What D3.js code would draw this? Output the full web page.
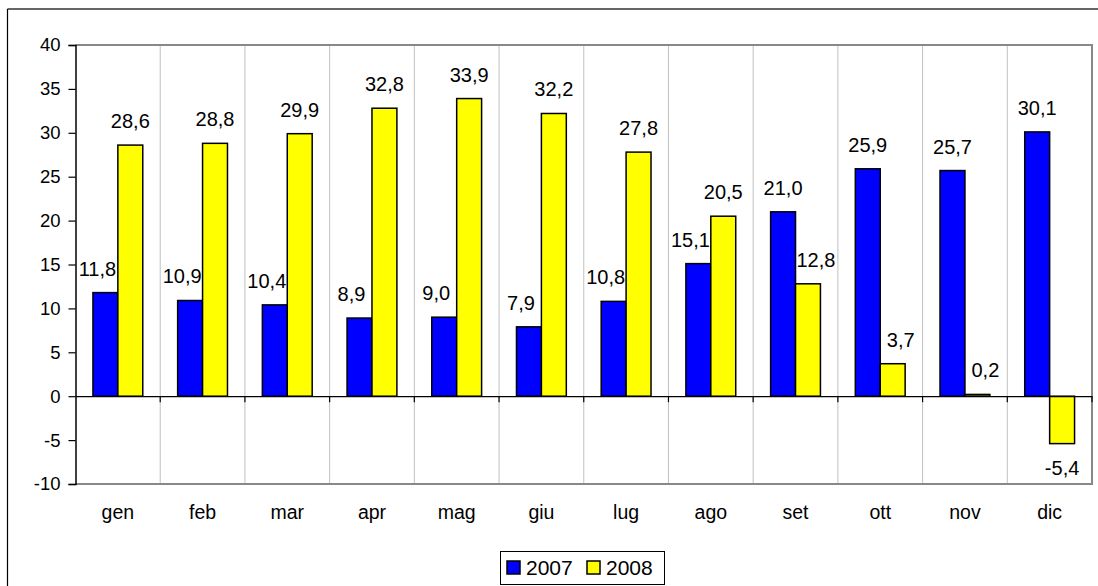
<!DOCTYPE html>
<html><head><meta charset="utf-8">
<script src="https://cdn.jsdelivr.net/npm/d3@7"></script>
<style>
html,body{margin:0;padding:0;background:#fff;}
svg{display:block;font-family:"Liberation Sans",Arial,sans-serif;}
</style></head>
<body>
<svg id="chart" width="1098" height="586"></svg>
<script>
const months = ["gen","feb","mar","apr","mag","giu","lug","ago","set","ott","nov","dic"];
const seriesNames = ["2007","2008"];
const values2007 = [11.8,10.9,10.4,8.9,9.0,7.9,10.8,15.1,21.0,25.9,25.7,30.1];
const values2008 = [28.6,28.8,29.9,32.8,33.9,32.2,27.8,20.5,12.8,3.7,0.2,-5.4];
const yTicks = [-10,-5,0,5,10,15,20,25,30,35,40];
const colors = ["#0000FF","#FFFF00"];

const svg = d3.select("#chart");
const L = 75.5, R = 1092, T = 45, B = 484;

// outer chart border
svg.append("line").attr("x1",7.5).attr("x2",1098).attr("y1",9).attr("y2",9).attr("stroke","#333").attr("stroke-width",1.5);
svg.append("line").attr("x1",7.5).attr("x2",7.5).attr("y1",9).attr("y2",586).attr("stroke","#000").attr("stroke-width",1.2);

const x0 = d3.scaleBand().domain(months).range([L,R]).padding(0);
const bw = x0.bandwidth();
const barW = bw/3.4;
const x1 = d3.scaleBand().domain(seriesNames).range([0.7*barW, 0.7*barW + 2*barW]).padding(0);
const y = d3.scaleLinear().domain([-10,40]).range([B,T]);

// vertical gridlines at category boundaries
svg.append("g").selectAll("line").data(months.slice(1)).join("line")
  .attr("x1",d=>x0(d)).attr("x2",d=>x0(d)).attr("y1",T).attr("y2",B)
  .attr("stroke","#c0c0c0").attr("stroke-width",1);

// plot area border (gray) top, right, bottom
svg.append("path").attr("d",`M${L},${T}H${R}V${B}H${L}`).attr("fill","none")
  .attr("stroke","#888").attr("stroke-width",2);

// y axis
const yAxis = d3.axisLeft(y).tickValues(yTicks).tickSize(7).tickPadding(8).tickFormat(d=>String(d));
const ga = svg.append("g").attr("transform",`translate(${L},0)`).call(yAxis);
ga.select(".domain").attr("stroke","#000").attr("stroke-width",1.5);
ga.selectAll(".tick line").attr("stroke","#000").attr("stroke-width",1.2);
ga.selectAll(".tick text").attr("font-size",18.5).attr("fill","#000")
  .attr("font-family","'Liberation Sans',Arial,sans-serif");

// data
const data = months.map((m,i)=>({m, vals:[values2007[i], values2008[i]]}));

const groups = svg.append("g").selectAll("g").data(data).join("g")
  .attr("transform",d=>`translate(${x0(d.m)},0)`);

const fmt = v => d3.format(".1f")(v).replace(".",",").replace("\u2212","-");

// label shifted away from a taller neighbouring bar
function labelShift(d, si){
  const v = d.vals[si], o = d.vals[1-si];
  if (v >= 0 && o > v) return si === 0 ? -8 : 8;
  return 0;
}

seriesNames.forEach((s,si)=>{
  groups.append("rect")
    .attr("x",x1(s)).attr("width",x1.bandwidth())
    .attr("y",d=>y(Math.max(0,d.vals[si])))
    .attr("height",d=>Math.abs(y(d.vals[si])-y(0)))
    .attr("fill",colors[si]).attr("stroke","#000").attr("stroke-width",1.5);
  groups.append("text")
    .attr("x",d=>x1(s)+x1.bandwidth()/2 + labelShift(d,si))
    .attr("y",d=>d.vals[si]>=0 ? y(d.vals[si])-17 : y(d.vals[si])+31)
    .attr("text-anchor","middle").attr("font-size",20).attr("fill","#000")
    .text(d=>fmt(d.vals[si]));
});

// x axis at zero
const xAxis = d3.axisBottom(x0).tickSize(0).tickFormat("");
const gx = svg.append("g").attr("transform",`translate(0,${y(0)})`).call(xAxis);
gx.select(".domain").attr("stroke","#000").attr("stroke-width",1.2);
gx.selectAll(".tick").remove();
svg.append("g").selectAll("line").data(months.slice(1).concat(["__end"])).join("line")
  .attr("x1",d=>d==="__end"?R:x0(d)).attr("x2",d=>d==="__end"?R:x0(d))
  .attr("y1",y(0)).attr("y2",y(0)+6).attr("stroke","#000").attr("stroke-width",1.2);

// category labels
svg.append("g").selectAll("text").data(months).join("text")
  .attr("x",d=>x0(d)+bw/2).attr("y",519).attr("text-anchor","middle")
  .attr("font-size",19.5).attr("fill","#000").text(d=>d);

// legend
const lg = svg.append("g");
lg.append("rect").attr("x",500.5).attr("y",551.5).attr("width",164).attr("height",33)
  .attr("fill","#fff").attr("stroke","#000").attr("stroke-width",1);
const legX = [507, 587];
seriesNames.forEach((s,i)=>{
  lg.append("rect").attr("x",legX[i]).attr("y",561).attr("width",13).attr("height",13)
    .attr("fill",colors[i]).attr("stroke","#000").attr("stroke-width",1.5);
  lg.append("text").attr("x",legX[i]+19).attr("y",575).attr("font-size",21).attr("fill","#000").text(s);
});
</script>
</body></html>
